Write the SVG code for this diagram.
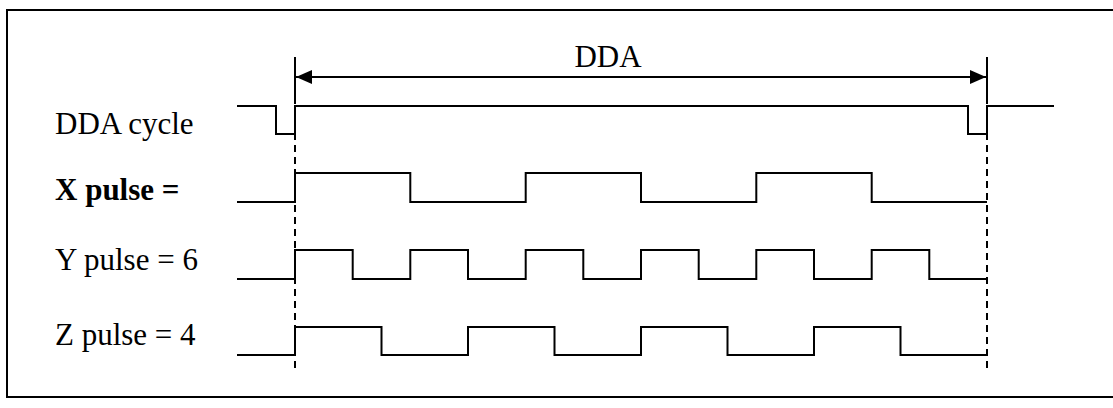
<svg xmlns="http://www.w3.org/2000/svg" width="1113" height="408" viewBox="0 0 1113 408">
<defs>
<style>
.sig{fill:none;stroke:#000;stroke-width:2;stroke-linejoin:miter}
.dash{fill:none;stroke:#000;stroke-width:2;stroke-dasharray:7,5}
.tick{stroke:#000;stroke-width:2}
.lbl{font-family:"Liberation Serif","Times New Roman",serif;font-size:31px;fill:#000}
.b{font-weight:bold}
</style>
<marker id="ah" viewBox="0 0 16 14" markerWidth="16" markerHeight="14" refX="16" refY="7" orient="auto-start-reverse" markerUnits="userSpaceOnUse">
<path d="M0,0 L16,7 L0,14 Z" fill="#000"/>
</marker>
</defs>
<rect x="0" y="0" width="1113" height="408" fill="#fff"/>
<rect id="frame" x="7" y="10" width="1120" height="387" fill="none" stroke="#000" stroke-width="2"/>
<g id="labels">
<text class="lbl" x="55" y="134">DDA cycle</text>
<text class="lbl b" x="55" y="200">X pulse =</text>
<text class="lbl" x="55" y="270">Y pulse = 6</text>
<text class="lbl" x="55" y="345">Z pulse = 4</text>
<text class="lbl" x="608" y="67" text-anchor="middle">DDA</text>
</g>
<g id="connectors">
<line class="tick" x1="295" y1="57" x2="295" y2="97"/>
<line class="tick" x1="987" y1="57" x2="987" y2="97"/>
<line class="tick" x1="296" y1="77" x2="986" y2="77" marker-start="url(#ah)" marker-end="url(#ah)"/>
<line class="dash" x1="295" y1="97" x2="295" y2="368"/>
<line class="dash" x1="987" y1="97" x2="987" y2="368"/>
</g>
<g id="ddacycle">
<polyline class="sig" points="237,106 276,106 276,134 295,134 295,106 968,106 968,134 987,134 987,106 1054,106"/>
</g>
<g id="xpulse">
<polyline class="sig" points="237,202 295,202 295,173 410.3,173 410.3,202 525.7,202 525.7,173 641,173 641,202 756.3,202 756.3,173 871.7,173 871.7,202 987,202"/>
</g>
<g id="ypulse">
<polyline class="sig" points="237,279 295,279 295,250 352.7,250 352.7,279 410.3,279 410.3,250 468,250 468,279 525.7,279 525.7,250 583.3,250 583.3,279 641,279 641,250 698.7,250 698.7,279 756.3,279 756.3,250 814,250 814,279 871.7,279 871.7,250 929.3,250 929.3,279 987,279"/>
</g>
<g id="zpulse">
<polyline class="sig" points="237,355 295,355 295,327 381.5,327 381.5,355 468,355 468,327 554.5,327 554.5,355 641,355 641,327 727.5,327 727.5,355 814,355 814,327 900.5,327 900.5,355 987,355"/>
</g>
</svg>
